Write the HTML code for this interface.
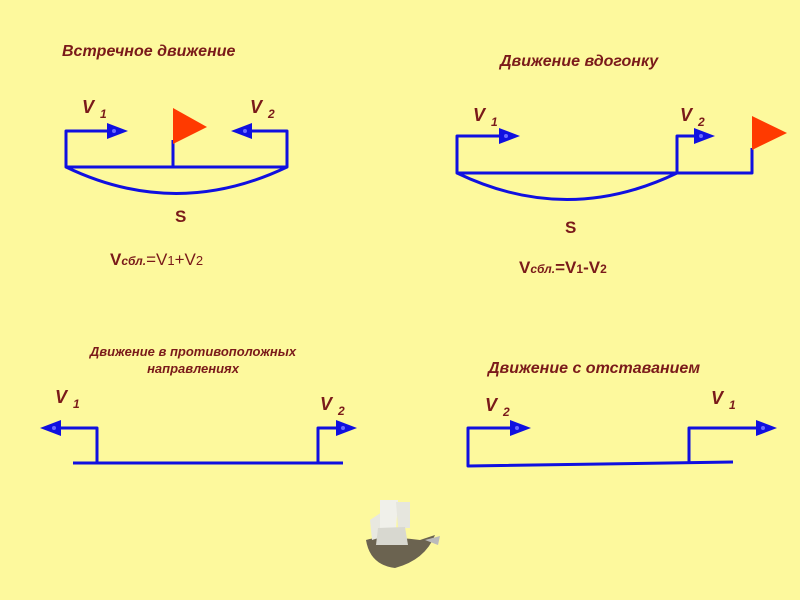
<!DOCTYPE html>
<html><head><meta charset="utf-8"><style>
body{margin:0;background:#fdf99d;}
svg{display:block}
text{font-family:"Liberation Sans",sans-serif;fill:#7a1a1a;}
</style></head><body>
<svg width="800" height="600" viewBox="0 0 800 600">
<rect width="800" height="600" fill="#fdf99d"/>
<g stroke="#1010e0" stroke-width="3" fill="none" stroke-linejoin="round">
<path d="M108 131 H66 V167 H287 V131 H252"/>
<path d="M173 167 V140"/>
<path d="M66 167 Q176 220 287 167"/>
<path d="M500 136 H457 V173 H752 V148"/>
<path d="M697 136 H677 V173"/>
<path d="M457 173 Q567 226 677 173"/>
<path d="M73 463 H343"/>
<path d="M60 428 H97 V463"/>
<path d="M338 428 H318 V463"/>
<path d="M733 462 L468 466 V428 H512"/>
<path d="M758 428 H689 V462"/>
</g>
<g fill="#1010e0">
<path d="M107 123 L128 131 L107 139Z"/>
<path d="M252 123 L231 131 L252 139Z"/>
<path d="M499 128 L520 136 L499 144Z"/>
<path d="M694 128 L715 136 L694 144Z"/>
<path d="M61 420 L40 428 L61 436Z"/>
<path d="M336 420 L357 428 L336 436Z"/>
<path d="M510 420 L531 428 L510 436Z"/>
<path d="M756 420 L777 428 L756 436Z"/>
</g>
<g fill="#6a6aff">
<circle cx="114" cy="131" r="2"/><circle cx="245" cy="131" r="2"/><circle cx="506" cy="136" r="2"/><circle cx="701" cy="136" r="2"/>
<circle cx="54" cy="428" r="2"/><circle cx="343" cy="428" r="2"/><circle cx="517" cy="428" r="2"/><circle cx="763" cy="428" r="2"/>
</g>
<path d="M173 108 L207 127 L173 144Z" fill="#ff3a00"/>
<path d="M752 116 L787 133 L752 150Z" fill="#ff3a00"/>
<g font-weight="bold" font-style="italic">
<text x="62" y="56" font-size="16">Встречное движение</text>
<text x="500" y="66" font-size="16">Движение вдогонку</text>
<text x="488" y="373" font-size="16">Движение с отставанием</text>
<text x="193" y="356" font-size="13" text-anchor="middle">Движение в противоположных</text>
<text x="193" y="373" font-size="13" text-anchor="middle">направлениях</text>
<text x="82" y="113" font-size="18">V</text><text x="100" y="118" font-size="12">1</text>
<text x="250" y="113" font-size="18">V</text><text x="268" y="118" font-size="12">2</text>
<text x="473" y="121" font-size="18">V</text><text x="491" y="126" font-size="12">1</text>
<text x="680" y="121" font-size="18">V</text><text x="698" y="126" font-size="12">2</text>
<text x="55" y="403" font-size="18">V</text><text x="73" y="408" font-size="12">1</text>
<text x="320" y="410" font-size="18">V</text><text x="338" y="415" font-size="12">2</text>
<text x="485" y="411" font-size="18">V</text><text x="503" y="416" font-size="12">2</text>
<text x="711" y="404" font-size="18">V</text><text x="729" y="409" font-size="12">1</text>
</g>
<text x="175" y="222" font-size="17" font-weight="bold">S</text>
<text x="565" y="233" font-size="17" font-weight="bold">S</text>
<text x="110" y="265" font-size="17"><tspan font-weight="bold">V</tspan><tspan font-size="12" font-weight="bold" font-style="italic">сбл.</tspan>=V<tspan font-size="13">1</tspan>+V<tspan font-size="13">2</tspan></text>
<text x="519" y="273" font-size="17" font-weight="bold">V<tspan font-size="12" font-style="italic">сбл.</tspan>=V<tspan font-size="12">1</tspan>-V<tspan font-size="12">2</tspan></text>
<g>
<path d="M366 540 Q380 535 420 540 L435 535 Q425 560 395 568 Q370 565 366 540Z" fill="#6b6350"/>
<path d="M370 520 L385 510 L388 535 L372 540Z" fill="#e8e8e0"/>
<path d="M380 500 L398 500 L396 530 L380 528Z" fill="#f0f0ea"/>
<path d="M396 502 L410 502 L410 528 L398 528Z" fill="#e6e6de"/>
<path d="M378 528 L405 527 L408 545 L376 545Z" fill="#d8d8d0"/>
<path d="M425 540 L440 536 L438 545Z" fill="#bbb"/>
</g>
</svg>
</body></html>
